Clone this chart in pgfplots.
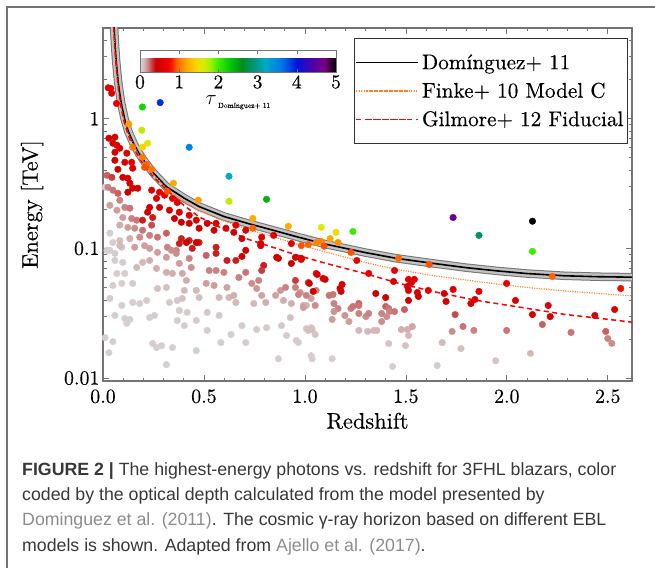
\documentclass[border=0pt]{standalone}
\usepackage{fontspec}
\setmainfont{lmroman10-regular.otf}[FakeBold=0.35]
\usepackage{pgfplots}
\usepackage{pgfplotstable}
\pgfplotsset{compat=1.18}
\pgfplotsset{/pgf/number format/assume math mode=true}
\newfontfamily\capfont{Liberation Sans}
\definecolor{framegray}{gray}{0.45}
\definecolor{bandedge}{gray}{0.45}
\definecolor{bandfill}{gray}{0.76}
\definecolor{finkeorange}{rgb}{1,0.5,0.15}
\definecolor{gilred}{rgb}{1,0,0}
\definecolor{capgray}{gray}{0.55}
\definecolor{captext}{gray}{0.22}

\pgfplotsset{colormap={taumap}{
  rgb255(0pt)=(215,215,215) rgb255(1pt)=(212,185,185) rgb255(2pt)=(204,130,130)
  rgb255(3pt)=(200,60,60) rgb255(4pt)=(205,0,0) rgb255(7pt)=(235,0,0)
  rgb255(8pt)=(250,20,0) rgb255(9pt)=(255,80,0) rgb255(10pt)=(255,120,0)
  rgb255(12pt)=(255,170,0) rgb255(14pt)=(250,210,0) rgb255(16pt)=(220,235,0)
  rgb255(18pt)=(160,240,0) rgb255(20pt)=(60,235,0) rgb255(23pt)=(0,200,0)
  rgb255(26pt)=(0,140,30) rgb255(29pt)=(0,150,120) rgb255(32pt)=(0,170,200)
  rgb255(36pt)=(0,120,230) rgb255(40pt)=(0,20,220) rgb255(44pt)=(80,0,170)
  rgb255(47pt)=(120,0,130) rgb255(50pt)=(0,0,0)}}

% horizon curves (z, E in TeV)
\pgfplotstableread{
z E
0.048 8
0.052 6
0.055 5
0.060 3.6
0.065 2.8
0.070 2.3
0.075 1.92
0.082 1.6
0.090 1.32
0.100 1.12
0.108 0.98
0.125 0.80
0.150 0.65
0.175 0.55
0.200 0.48
0.250 0.38
0.313 0.30
0.400 0.245
0.476 0.210
0.600 0.176
0.722 0.155
0.850 0.137
0.968 0.122
1.100 0.108
1.297 0.093
1.450 0.084
1.626 0.077
1.800 0.071
1.955 0.067
2.100 0.064
2.286 0.0615
2.450 0.0605
2.620 0.060
}\domtab

\pgfplotstableread{
z E
0.045 8
0.049 6
0.052 5
0.057 3.6
0.062 2.8
0.067 2.3
0.072 1.9
0.079 1.56
0.087 1.29
0.097 1.08
0.106 0.95
0.125 0.77
0.150 0.63
0.200 0.46
0.250 0.37
0.313 0.29
0.400 0.232
0.476 0.195
0.600 0.162
0.722 0.140
0.850 0.122
0.968 0.107
1.100 0.094
1.297 0.078
1.450 0.069
1.626 0.062
1.800 0.057
1.955 0.053
2.100 0.050
2.286 0.047
2.450 0.045
2.620 0.043
}\finketab

\pgfplotstableread{
z E
0.046 8
0.050 6
0.053 5
0.058 3.6
0.063 2.8
0.068 2.3
0.073 1.88
0.080 1.54
0.088 1.27
0.098 1.05
0.106 0.93
0.125 0.75
0.150 0.60
0.200 0.44
0.250 0.355
0.313 0.285
0.400 0.215
0.476 0.175
0.600 0.140
0.722 0.117
0.850 0.101
0.968 0.088
1.100 0.077
1.297 0.064
1.462 0.054
1.650 0.046
1.840 0.040
2.050 0.0355
2.286 0.031
2.450 0.029
2.620 0.027
}\giltab

% 3FHL blazars: redshift, highest photon energy (TeV), tau
\pgfplotstableread{
z E t
0.010 0.296 0.03
0.034 0.131 0.03
0.049 0.111 0.03
0.020 0.0966 0.03
0.059 0.0915 0.04
0.093 0.102 0.05
0.034 0.0966 0.03
0.059 0.0807 0.03
0.098 0.0780 0.03
0.069 0.0641 0.03
0.108 0.0641 0.03
0.049 0.0518 0.03
0.093 0.0537 0.03
0.147 0.0537 0.04
0.034 0.0411 0.03
0.093 0.0363 0.03
0.147 0.0383 0.03
0.059 0.0304 0.03
0.108 0.0288 0.03
0.133 0.0283 0.03
0.118 0.0264 0.03
0.010 0.0205 0.03
0.049 0.0191 0.03
0.029 0.0157 0.03
0.246 0.0185 0.03
0.290 0.0178 0.03
0.265 0.0172 0.03
0.344 0.0172 0.03
0.314 0.0127 0.03
0.216 0.0397 0.04
0.182 0.0376 0.03
0.231 0.0293 0.03
0.255 0.0304 0.03
0.329 0.0383 0.04
0.368 0.0397 0.05
0.378 0.0332 0.04
0.417 0.0321 0.04
0.368 0.0278 0.03
0.462 0.0278 0.04
0.403 0.0254 0.03
0.516 0.0321 0.05
0.575 0.0304 0.05
0.516 0.0233 0.03
0.584 0.0188 0.03
0.462 0.0163 0.03
0.634 0.0217 0.03
0.688 0.0254 0.04
0.707 0.0188 0.03
0.761 0.0237 0.04
0.810 0.0245 0.04
0.869 0.0141 0.03
0.884 0.0254 0.05
0.909 0.0213 0.04
0.958 0.0195 0.04
1.007 0.0241 0.05
1.031 0.0245 0.05
1.031 0.0149 0.03
0.968 0.0188 0.04
1.036 0.0141 0.03
1.135 0.0141 0.03
1.434 0.0123 0.03
1.655 0.0125 0.04
1.945 0.0136 0.06
2.117 0.0155 0.10
1.017 0.0233 0.08
1.036 0.0237 0.08
1.051 0.0217 0.06
1.267 0.0233 0.10
1.311 0.0229 0.10
1.341 0.0233 0.10
1.356 0.0233 0.10
1.478 0.0237 0.12
1.508 0.0237 0.12
1.532 0.0250 0.14
1.513 0.0213 0.10
1.415 0.0185 0.06
1.498 0.0178 0.07
1.680 0.0188 0.10
1.773 0.0169 0.08
0.020 0.366 0.25
0.044 0.353 0.30
0.025 0.296 0.20
0.049 0.281 0.22
0.074 0.266 0.25
0.034 0.215 0.15
0.083 0.235 0.20
0.108 0.207 0.20
0.069 0.197 0.15
0.133 0.204 0.22
0.098 0.173 0.15
0.142 0.170 0.20
0.167 0.165 0.22
0.083 0.151 0.12
0.123 0.145 0.15
0.157 0.143 0.18
0.196 0.138 0.22
0.241 0.151 0.28
0.231 0.126 0.20
0.182 0.122 0.18
0.270 0.122 0.22
0.314 0.131 0.25
0.133 0.119 0.12
0.083 0.115 0.08
0.319 0.102 0.20
0.363 0.0966 0.20
0.231 0.100 0.15
0.270 0.0931 0.15
0.157 0.102 0.15
0.206 0.105 0.15
0.083 0.105 0.10
0.231 0.0807 0.12
0.265 0.0701 0.12
0.196 0.0780 0.10
0.167 0.0713 0.10
0.314 0.0853 0.15
0.339 0.0966 0.18
0.363 0.0915 0.18
0.378 0.0766 0.15
0.314 0.0653 0.12
0.344 0.0641 0.12
0.393 0.0641 0.13
0.427 0.0838 0.20
0.437 0.0713 0.17
0.413 0.0566 0.12
0.403 0.0474 0.10
0.314 0.0500 0.08
0.270 0.0491 0.07
0.393 0.0411 0.07
0.462 0.0474 0.10
0.476 0.0418 0.08
0.511 0.0883 0.25
0.526 0.0676 0.20
0.560 0.0676 0.20
0.511 0.0537 0.15
0.550 0.0518 0.15
0.599 0.0653 0.20
0.614 0.0500 0.14
0.624 0.0418 0.10
0.575 0.0418 0.10
0.648 0.0434 0.12
0.658 0.0383 0.10
0.673 0.0597 0.20
0.707 0.0653 0.22
0.737 0.0537 0.18
0.761 0.0491 0.16
0.771 0.0566 0.20
0.747 0.0376 0.10
0.786 0.0434 0.14
0.806 0.0383 0.12
0.855 0.0434 0.14
0.879 0.0474 0.16
0.894 0.0397 0.12
0.928 0.0293 0.08
0.933 0.0376 0.12
0.977 0.0457 0.16
0.992 0.0363 0.12
1.007 0.0363 0.12
1.031 0.0411 0.14
1.056 0.0474 0.20
0.904 0.0500 0.20
0.953 0.0500 0.20
0.968 0.0441 0.20
1.007 0.0434 0.20
1.051 0.0363 0.18
0.992 0.0350 0.15
1.120 0.0434 0.22
1.139 0.0441 0.22
1.144 0.0376 0.20
1.164 0.0344 0.20
1.144 0.0326 0.17
1.135 0.0283 0.15
1.198 0.0304 0.17
1.218 0.0273 0.15
1.228 0.0344 0.20
1.238 0.0357 0.22
1.267 0.0376 0.25
1.267 0.0363 0.22
1.267 0.0315 0.20
1.302 0.0298 0.18
1.316 0.0315 0.20
1.380 0.0315 0.20
1.380 0.0273 0.18
1.400 0.0357 0.25
1.415 0.0344 0.22
1.419 0.0326 0.20
1.405 0.0298 0.18
1.444 0.0326 0.22
1.493 0.0338 0.25
1.744 0.0309 0.28
1.783 0.0250 0.22
1.837 0.0233 0.20
1.729 0.0229 0.18
1.999 0.0233 0.22
2.176 0.0259 0.25
2.318 0.0225 0.22
2.490 0.0229 0.25
2.500 0.0202 0.20
2.520 0.0185 0.18
0.026 1.73 0.60
0.039 1.71 0.60
0.043 1.57 0.55
0.067 1.31 0.65
0.029 0.707 0.45
0.059 0.72 0.50
0.049 0.647 0.45
0.059 0.551 0.45
0.069 0.624 0.55
0.083 0.592 0.55
0.059 0.478 0.40
0.108 0.461 0.55
0.142 0.461 0.65
0.118 0.542 0.60
0.147 0.415 0.60
0.074 0.407 0.40
0.098 0.353 0.45
0.123 0.347 0.50
0.133 0.318 0.50
0.147 0.291 0.45
0.172 0.291 0.50
0.123 0.271 0.40
0.241 0.281 0.60
0.280 0.271 0.65
0.265 0.243 0.55
0.280 0.207 0.45
0.231 0.207 0.40
0.305 0.257 0.65
0.344 0.243 0.65
0.368 0.226 0.65
0.329 0.197 0.50
0.378 0.190 0.50
0.354 0.170 0.45
0.388 0.159 0.40
0.427 0.180 0.55
0.427 0.156 0.45
0.462 0.165 0.50
0.476 0.143 0.45
0.516 0.156 0.50
0.560 0.156 0.55
0.550 0.138 0.45
0.609 0.143 0.50
0.658 0.151 0.60
0.648 0.133 0.50
0.707 0.138 0.55
0.688 0.119 0.45
0.786 0.122 0.55
0.781 0.109 0.50
0.845 0.126 0.60
0.860 0.0853 0.40
0.933 0.109 0.60
0.953 0.0853 0.45
0.560 0.102 0.35
0.476 0.111 0.35
0.427 0.115 0.35
0.388 0.119 0.35
0.246 0.173 0.35
0.221 0.190 0.40
0.196 0.165 0.35
0.378 0.109 0.35
0.413 0.111 0.40
0.462 0.111 0.40
0.442 0.100 0.35
0.560 0.0915 0.35
0.614 0.0807 0.35
0.658 0.0807 0.35
0.688 0.0867 0.40
0.707 0.0966 0.45
0.781 0.105 0.50
0.796 0.0739 0.35
0.786 0.0676 0.30
0.869 0.0838 0.40
0.933 0.0766 0.40
0.953 0.0566 0.30
0.982 0.0838 0.45
1.017 0.0546 0.30
1.056 0.0641 0.35
0.982 0.0822 0.55
1.316 0.0641 0.60
1.444 0.0676 0.65
1.061 0.0630 0.55
1.090 0.0587 0.50
1.100 0.0577 0.50
1.022 0.0537 0.45
1.184 0.0527 0.50
1.174 0.0491 0.50
1.179 0.0466 0.45
1.041 0.0466 0.40
1.439 0.0556 0.55
1.513 0.0577 0.60
1.528 0.0546 0.55
1.542 0.0577 0.60
1.508 0.0509 0.55
1.513 0.0474 0.50
1.557 0.0457 0.50
1.562 0.0426 0.45
1.611 0.0474 0.55
1.513 0.0397 0.45
1.690 0.0449 0.50
1.699 0.0390 0.45
1.734 0.0483 0.55
1.822 0.0376 0.50
1.842 0.0404 0.50
1.862 0.0466 0.60
1.999 0.0537 0.70
2.043 0.0397 0.55
1.351 0.0449 0.40
1.400 0.0418 0.40
2.205 0.0363 0.55
2.215 0.0298 0.45
2.436 0.0304 0.50
2.534 0.0338 0.55
2.127 0.0309 0.45
0.128 0.907 1.15
0.192 0.815 1.70
0.221 0.647 1.60
0.196 0.602 1.40
0.147 0.602 1.00
0.196 0.504 1.00
0.216 0.445 0.95
0.206 0.422 0.90
0.241 0.407 1.00
0.349 0.318 1.20
0.427 0.602 3.50
0.624 0.360 3.20
0.624 0.231 1.70
0.810 0.239 2.40
0.472 0.235 1.15
0.742 0.170 1.20
0.742 0.143 0.95
0.918 0.148 1.20
0.319 0.275 0.90
0.195 1.23 2.20
0.283 1.33 3.90
1.081 0.145 1.60
1.154 0.133 1.50
1.238 0.135 2.00
1.125 0.119 1.20
1.164 0.111 1.10
1.056 0.111 1.05
1.081 0.113 1.05
1.017 0.107 0.95
0.982 0.105 0.90
1.095 0.104 0.90
1.228 0.0931 0.90
1.257 0.0807 0.70
1.464 0.0838 0.95
1.616 0.0752 0.90
1.734 0.173 4.60
1.862 0.126 2.80
2.127 0.162 5.00
2.127 0.0948 2.00
2.225 0.0608 0.95
2.564 0.0491 0.75
}\blazars

\begin{document}
\begin{tikzpicture}
\useasboundingbox (0bp,0bp) rectangle (655bp,568bp);
\draw[framegray, line width=1.2bp] (7bp,0bp) -- (7bp,561bp) -- (655bp,561bp);

\begin{axis}[
  at={(103bp,187bp)}, anchor=south west,
  scale only axis, width=529bp, height=353bp,
  xmin=0, xmax=2.62, ymin=0.0095, ymax=5, ymode=log,
  axis line style={framegray, line width=1.1bp},
  every tick/.style={framegray, line width=0.7bp},
  tick align=inside,
  major tick length=6bp, minor tick length=3.5bp,
  xtick={0,0.5,1,1.5,2,2.5},
  minor x tick num=4,
  xticklabel style={yshift=-5bp, /pgf/number format/.cd, fixed, fixed zerofill, precision=1},
  ytick={0.01,0.1,1},
  yticklabels={0.01,0.1,1},
  minor ytick={0.02,0.03,0.04,0.05,0.06,0.07,0.08,0.09,0.2,0.3,0.4,0.5,0.6,0.7,0.8,0.9,2,3,4,5},
  tick label style={font=\fontsize{20}{20}\selectfont},
  xlabel={Redshift}, ylabel={Energy [TeV]},
  label style={font=\fontsize{22.5}{23}\selectfont},
  xlabel style={at={(axis description cs:0.5,-0.113)}, anchor=center},
  ylabel style={at={(axis description cs:-0.134,0.5)}, anchor=center},
  colormap name=taumap,
  point meta min=0, point meta max=5,
  colorbar horizontal,
  colorbar style={
    at={(parent axis.north west)}, anchor=north west,
    xshift=37bp, yshift=-13.7bp,
    scale only axis, width=196bp, height=22.6bp,
    axis line style={framegray, line width=1bp},
    every tick/.style={framegray, line width=0.6bp},
    tick align=inside, major tick length=4bp,
    xtick={0,1,2,3,4,5},
    xtick pos=both, xticklabel pos=lower,
    xticklabel style={font=\fontsize{19.5}{19.5}\selectfont, yshift=1bp},
    xlabel={$\tau$\raisebox{-3.5bp}{\fontsize{7.5}{8}\selectfont\,Domínguez+ 11}},
    xlabel style={font=\fontsize{20}{20}\selectfont, yshift=0bp},
  },
  legend style={at={(0.4745,0.9717)}, anchor=north west,
    draw=black!80, line width=0.8bp, fill=white,
    font=\fontsize{21.3}{22}\selectfont,
    inner xsep=1bp, inner ysep=14bp, row sep=8bp,
    nodes={inner xsep=3bp, inner ysep=2bp},
    cells={anchor=west}},
  legend image code/.code={\path (0bp,0bp) -- (62bp,0bp); \draw[#1] (11bp,0bp) -- (53bp,0bp);},
]

\addplot[forget plot, bandedge, line width=8.5bp] table {\domtab};
\addplot[forget plot, bandfill, line width=6.5bp] table {\domtab};
\addplot[forget plot, color=black, line width=1.6bp] table {\domtab};
\addplot[forget plot, color=finkeorange, line width=1.2bp, dash pattern=on 1.1bp off 1.3bp] table {\finketab};
\addplot[forget plot, color=gilred, line width=1.5bp, dash pattern=on 5bp off 3.5bp] table {\giltab};

\addplot[forget plot, scatter, only marks, mark=*, mark size=3.3bp,
  point meta=explicit,
  scatter/use mapped color={draw=mapped color, fill=mapped color}]
  table[x=z, y=E, meta=t] {\blazars};

\addlegendimage{draw=black, line width=1.6bp}
\addlegendentry{Domínguez+ 11}
\addlegendimage{draw=finkeorange, line width=1.4bp, dash pattern=on 1.2bp off 1.3bp}
\addlegendentry{Finke+ 10 Model C}
\addlegendimage{draw=gilred, line width=1.5bp, dash pattern=on 5bp off 3.5bp}
\addlegendentry{Gilmore+ 12 Fiducial}
\end{axis}

\begin{scope}[captext]
\node[anchor=base west, inner sep=0] at (22bp,92bp) {\capfont\fontsize{17.8}{20}\selectfont\textbf{FIGURE 2 |} The highest-energy photons vs. redshift for 3FHL blazars, color};
\node[anchor=base west, inner sep=0] at (22bp,67bp) {\capfont\fontsize{17.8}{20}\selectfont coded by the optical depth calculated from the model presented by};
\node[anchor=base west, inner sep=0] at (22bp,42bp) {\capfont\fontsize{17.8}{20}\selectfont{\color{capgray}Dominguez et al. (2011)}. The cosmic γ-ray horizon based on different EBL};
\node[anchor=base west, inner sep=0] at (22bp,17bp) {\capfont\fontsize{17.8}{20}\selectfont models is shown. Adapted from {\color{capgray}Ajello et al. (2017)}.};
\end{scope}
\end{tikzpicture}
\end{document}
